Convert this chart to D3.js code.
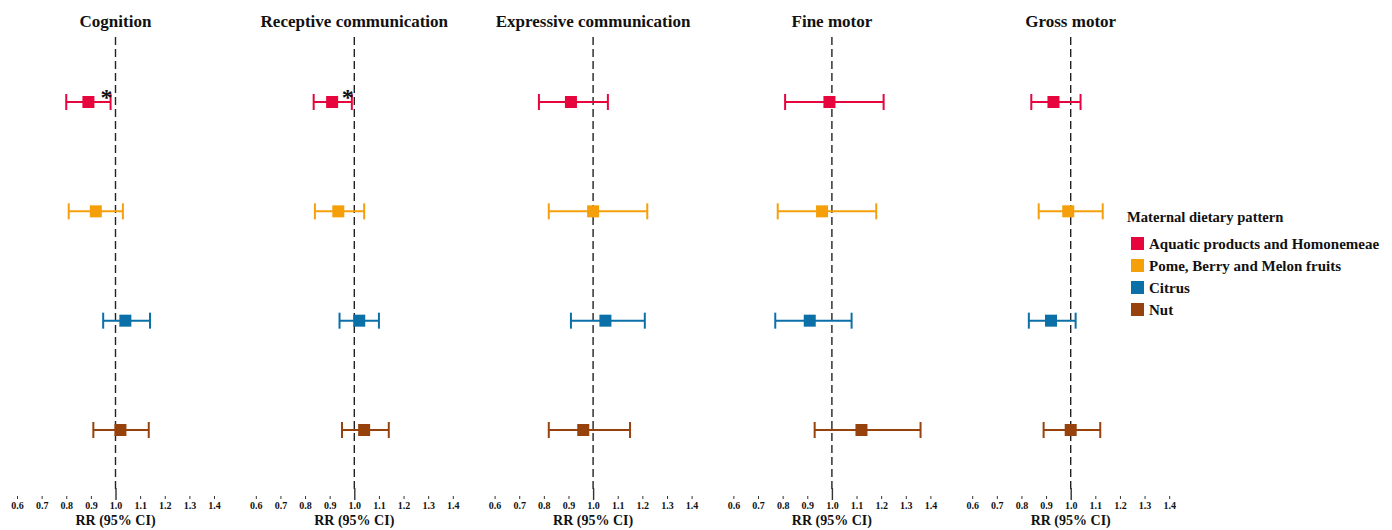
<!DOCTYPE html>
<html>
<head>
<meta charset="utf-8">
<script src="https://cdn.jsdelivr.net/npm/d3@7"></script>
<style>
  body { margin: 0; background: #fff; }
</style>
</head>
<body>
<svg id="chart" width="1392" height="530"></svg>
<script>
// outcomes (panels) and dietary patterns (rows)
const outcomes = ["Cognition", "Receptive communication", "Expressive communication", "Fine motor", "Gross motor"];
const patterns = ["Aquatic products and Homonemeae", "Pome, Berry and Melon fruits", "Citrus", "Nut"];
const patternColors = ["#e6053c", "#f5a00a", "#0b6fa8", "#97420c"];

// RR point estimates, one array per outcome, in pattern order
const rrCognition  = [0.89, 0.92, 1.04, 1.02];
const rrReceptive  = [0.91, 0.935, 1.02, 1.04];
const rrExpressive = [0.91, 1.00, 1.05, 0.96];
const rrFine       = [0.99, 0.96, 0.91, 1.12];
const rrGross      = [0.93, 0.99, 0.92, 1.00];

// lower / upper 95% CI
const lowCognition  = [0.80, 0.81, 0.95, 0.91];
const lowReceptive  = [0.835, 0.84, 0.94, 0.95];
const lowExpressive = [0.78, 0.82, 0.91, 0.82];
const lowFine       = [0.81, 0.78, 0.77, 0.93];
const lowGross      = [0.84, 0.87, 0.83, 0.89];

const highCognition  = [0.98, 1.03, 1.14, 1.135];
const highReceptive  = [0.99, 1.04, 1.10, 1.14];
const highExpressive = [1.06, 1.22, 1.21, 1.15];
const highFine       = [1.21, 1.18, 1.08, 1.36];
const highGross      = [1.04, 1.13, 1.02, 1.12];

// significant marks (*) per outcome
const sigCognition  = [true, false, false, false];
const sigReceptive  = [true, false, false, false];
const sigExpressive = [false, false, false, false];
const sigFine       = [false, false, false, false];
const sigGross      = [false, false, false, false];

const tickValues = [0.6, 0.7, 0.8, 0.9, 1.0, 1.1, 1.2, 1.3, 1.4];
const axisTitle = "RR (95% CI)";
const legendTitle = "Maternal dietary pattern";

const rrAll   = [rrCognition, rrReceptive, rrExpressive, rrFine, rrGross];
const lowAll  = [lowCognition, lowReceptive, lowExpressive, lowFine, lowGross];
const highAll = [highCognition, highReceptive, highExpressive, highFine, highGross];
const sigAll  = [sigCognition, sigReceptive, sigExpressive, sigFine, sigGross];

const serif = "'Times New Roman', 'Liberation Serif', 'DejaVu Serif', serif";
const svg = d3.select("#chart");

const panelWidth = 197, panelStep = 238.8, panelLeft = 17;
const y = d3.scalePoint().domain(patterns).range([102, 430]);

function label(sel, size) {
  return sel.attr("font-family", serif).attr("font-weight", "bold")
    .attr("font-size", size).attr("fill", "#111");
}

outcomes.forEach((name, i) => {
  const x0 = panelLeft + i * panelStep;
  const x = d3.scaleLinear().domain([0.6, 1.4]).range([x0, x0 + panelWidth]);
  const g = svg.append("g");

  // title
  label(g.append("text"), 17)
    .attr("x", x(1)).attr("y", 27)
    .attr("text-anchor", "middle")
    .text(name);

  // reference line at RR = 1
  g.append("line")
    .attr("x1", x(1)).attr("x2", x(1))
    .attr("y1", 37).attr("y2", 490)
    .attr("stroke", "#222").attr("stroke-width", 1.4)
    .attr("stroke-dasharray", "8,4");

  // axis: ticks + labels, no domain line
  const axis = g.append("g")
    .attr("transform", "translate(0,496)")
    .call(d3.axisBottom(x).tickValues(tickValues).tickSize(3).tickPadding(3).tickFormat(d3.format(".1f")));
  axis.attr("font-family", serif).attr("font-size", 10).attr("font-weight", "bold");
  axis.select(".domain").remove();
  axis.selectAll(".tick line").attr("stroke", "#333");
  axis.selectAll(".tick").filter(d => d === 1).select("line")
    .attr("y1", -8).attr("y2", 4).attr("stroke-width", 1.4);
  axis.selectAll(".tick text").attr("fill", "#111");

  label(g.append("text"), 14)
    .attr("x", x(1)).attr("y", 525)
    .attr("text-anchor", "middle")
    .text(axisTitle);

  // estimates
  const rows = patterns.map((p, j) => ({
    p, color: patternColors[j], rr: rrAll[i][j], lo: lowAll[i][j], hi: highAll[i][j], sig: sigAll[i][j]
  }));

  const row = g.selectAll("g.row").data(rows).enter().append("g").attr("class", "row");
  row.append("line")
    .attr("x1", d => x(d.lo)).attr("x2", d => x(d.hi))
    .attr("y1", d => y(d.p)).attr("y2", d => y(d.p))
    .attr("stroke", d => d.color).attr("stroke-width", 2);
  row.append("line")
    .attr("x1", d => x(d.lo)).attr("x2", d => x(d.lo))
    .attr("y1", d => y(d.p) - 8).attr("y2", d => y(d.p) + 8)
    .attr("stroke", d => d.color).attr("stroke-width", 2);
  row.append("line")
    .attr("x1", d => x(d.hi)).attr("x2", d => x(d.hi))
    .attr("y1", d => y(d.p) - 8).attr("y2", d => y(d.p) + 8)
    .attr("stroke", d => d.color).attr("stroke-width", 2);
  row.append("rect")
    .attr("x", d => x(d.rr) - 6).attr("y", d => y(d.p) - 6)
    .attr("width", 12).attr("height", 12)
    .attr("fill", d => d.color);
  label(row.filter(d => d.sig).append("text"), 24)
    .attr("x", d => x(d.hi) - 4).attr("y", d => y(d.p) + 3)
    .attr("text-anchor", "middle")
    .text("*");
});

// legend
const legend = svg.append("g").attr("transform", "translate(1127,222)");
label(legend.append("text"), 14.6).attr("x", 0).attr("y", 0).text(legendTitle);
const item = legend.selectAll("g.item").data(patterns).enter().append("g")
  .attr("class", "item")
  .attr("transform", (d, j) => `translate(4,${15 + j * 22})`);
item.append("rect").attr("width", 13).attr("height", 13).attr("fill", (d, j) => patternColors[j]);
label(item.append("text"), 15).attr("x", 18).attr("y", 11.5).text(d => d);
</script>
</body>
</html>
